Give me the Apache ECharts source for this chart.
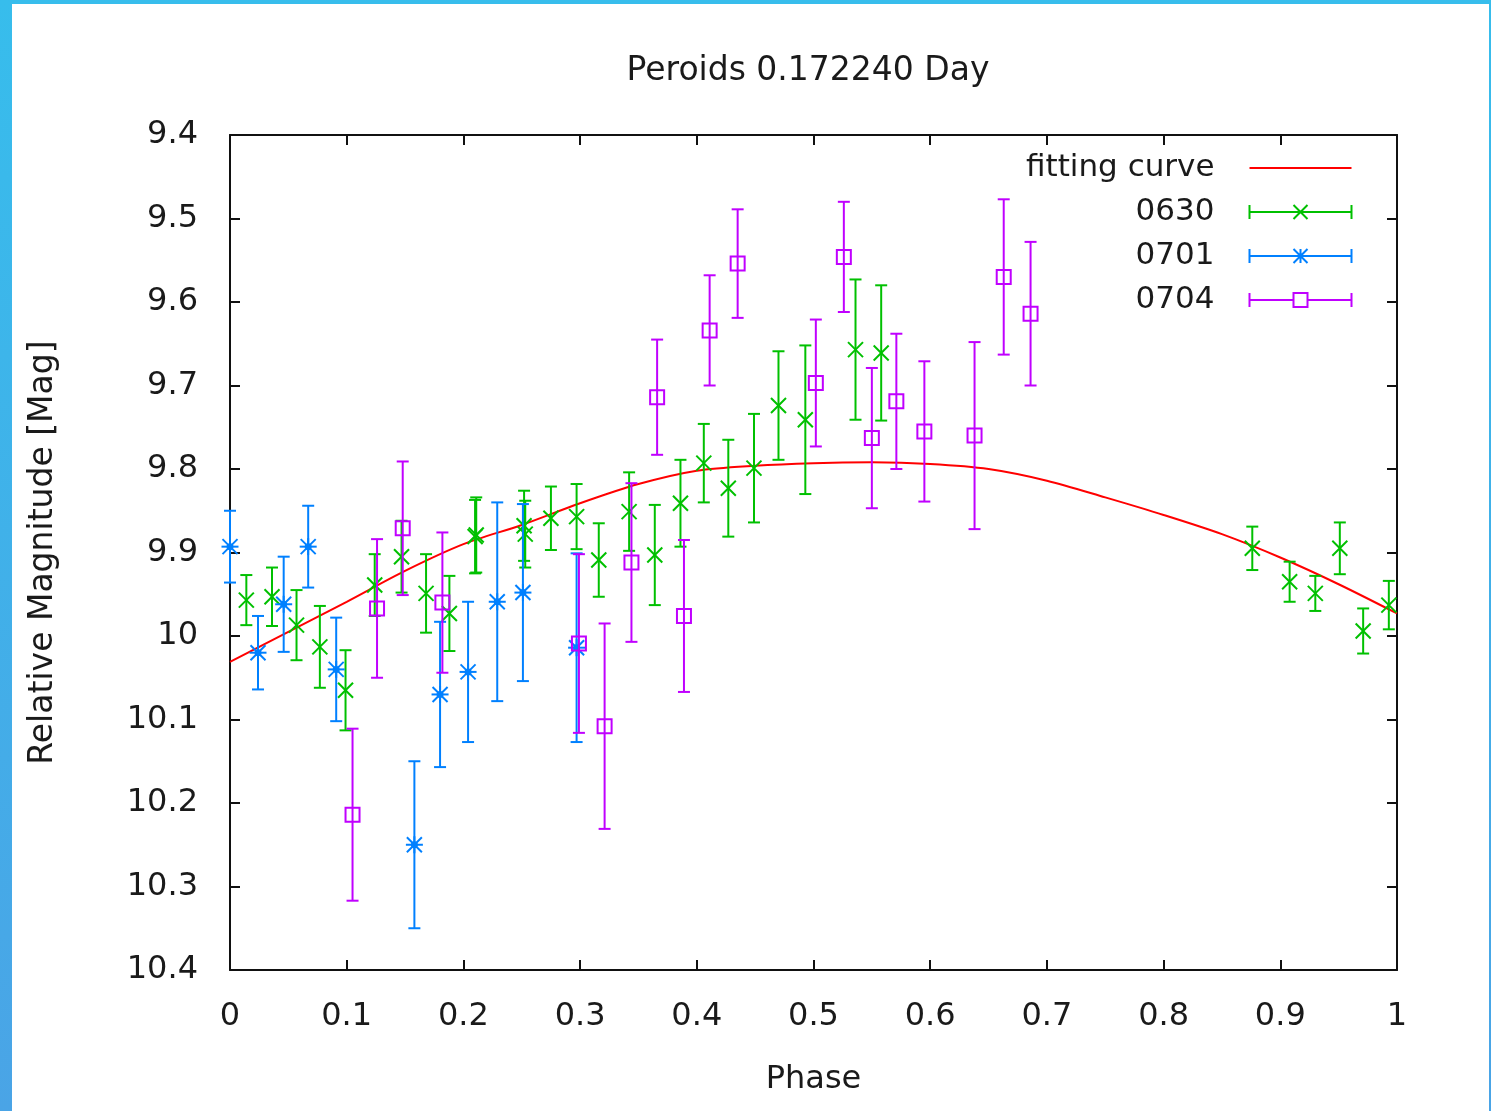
<!DOCTYPE html>
<html><head><meta charset="utf-8">
<script src="https://cdn.jsdelivr.net/npm/echarts@6/dist/echarts.min.js"></script>
<style>
html,body{margin:0;padding:0;width:1491px;height:1111px;overflow:hidden;background:linear-gradient(to bottom,#37bdec,#4aa4e6);}
#chart{position:absolute;left:12px;top:4px;width:1477px;height:1107px;background:#fff;}
</style></head><body><div id="chart"></div>
<script>
// ---- tick labels ----
const xTickLabels = ['0','0.1','0.2','0.3','0.4','0.5','0.6','0.7','0.8','0.9','1'];
const yTickLabels = ['9.4','9.5','9.6','9.7','9.8','9.9','10','10.1','10.2','10.3','10.4'];

// ---- fitting curve ----
const fitPhase = [0,0.05,0.1,0.15,0.2,0.25,0.3,0.35,0.4,0.45,0.5,0.55,0.6,0.65,0.7,0.75,0.8,0.85,0.9,0.95,1.0];
const fitMag   = [10.031,9.995,9.959,9.922,9.890,9.867,9.841,9.818,9.802,9.796,9.793,9.792,9.794,9.800,9.814,9.834,9.855,9.878,9.906,9.938,9.973];

// ---- 0630 ----
const p0630Phase = [0.014,0.036,0.057,0.077,0.099,0.124,0.147,0.168,0.188,0.210,0.211,0.252,0.253,0.275,0.297,0.316,0.342,0.364,0.386,0.406,0.427,0.449,0.470,0.493,0.536,0.558,0.876,0.908,0.930,0.951,0.971,0.993];
const p0630Mag   = [9.957,9.953,9.987,10.013,10.065,9.939,9.905,9.949,9.973,9.881,9.879,9.868,9.878,9.859,9.857,9.909,9.851,9.903,9.841,9.793,9.823,9.799,9.724,9.741,9.657,9.661,9.895,9.935,9.949,9.895,9.994,9.963];
const p0630Err   = [0.030,0.035,0.042,0.049,0.048,0.037,0.043,0.047,0.045,0.044,0.045,0.042,0.040,0.038,0.039,0.044,0.047,0.060,0.052,0.047,0.058,0.065,0.065,0.089,0.084,0.081,0.026,0.024,0.021,0.031,0.027,0.029];

// ---- 0701 ----
const p0701Phase = [0.000,0.024,0.046,0.067,0.091,0.158,0.180,0.204,0.229,0.251,0.297];
const p0701Mag   = [9.893,10.020,9.962,9.893,10.040,10.250,10.070,10.043,9.959,9.948,10.014];
const p0701Err   = [0.043,0.044,0.057,0.049,0.062,0.100,0.087,0.084,0.119,0.106,0.113];

// ---- 0704 ----
const p0704Phase = [0.105,0.126,0.148,0.182,0.299,0.321,0.344,0.366,0.389,0.411,0.435,0.502,0.526,0.550,0.571,0.595,0.638,0.663,0.686];
const p0704Mag   = [10.214,9.967,9.871,9.960,10.009,10.108,9.912,9.714,9.976,9.634,9.554,9.697,9.546,9.763,9.719,9.755,9.760,9.570,9.614];
const p0704Err   = [0.103,0.083,0.080,0.084,0.107,0.123,0.095,0.069,0.091,0.066,0.065,0.076,0.066,0.084,0.081,0.084,0.112,0.093,0.086];

const FONT = 'DejaVu Sans';
const TXT = '#1a1a1a';
const C_RED = '#ff0000', C_GREEN = '#00c000', C_BLUE = '#0080ff', C_PURPLE = '#c000ff';

function zip3(a,b,c){ return a.map((v,i)=>[v,b[i],c[i]]); }

function makeRender(kind, color){
  return function(params, api){
    const x = api.value(0), y = api.value(1), e = api.value(2);
    const c = api.coord([x, y]);
    const t = api.coord([x, y - e]);
    const b = api.coord([x, y + e]);
    const cap = 6;
    const st = {stroke: color, lineWidth: 2, fill: 'none'};
    const ch = [
      {type:'line', shape:{x1:c[0], y1:t[1], x2:c[0], y2:b[1]}, style:st},
      {type:'line', shape:{x1:c[0]-cap, y1:t[1], x2:c[0]+cap, y2:t[1]}, style:st},
      {type:'line', shape:{x1:c[0]-cap, y1:b[1], x2:c[0]+cap, y2:b[1]}, style:st}
    ];
    const s = 7.5;
    if (kind === 'cross' || kind === 'star') {
      ch.push({type:'line', shape:{x1:c[0]-s, y1:c[1]-s, x2:c[0]+s, y2:c[1]+s}, style:st});
      ch.push({type:'line', shape:{x1:c[0]-s, y1:c[1]+s, x2:c[0]+s, y2:c[1]-s}, style:st});
    }
    if (kind === 'star') {
      ch.push({type:'line', shape:{x1:c[0]-s-1, y1:c[1], x2:c[0]+s+1, y2:c[1]}, style:st});
      ch.push({type:'line', shape:{x1:c[0], y1:c[1]-s-1, x2:c[0], y2:c[1]+s+1}, style:st});
      ch.push({type:'circle', shape:{cx:c[0], cy:c[1], r:3.5}, style:{fill:color}});
    }
    if (kind === 'square') {
      ch.push({type:'rect', shape:{x:c[0]-7, y:c[1]-7, width:14, height:14}, style:st});
    }
    return {type:'group', children: ch};
  };
}

const chart = echarts.init(document.getElementById('chart'), null, {renderer:'canvas'});

const axisLine = {show:true, onZero:false, lineStyle:{color:'#111', width:2}};
const axisTick = {show:true, inside:true, length:10, lineStyle:{color:'#111', width:2}};
const textBase = {fontFamily: FONT, fontSize: 32, color: TXT};

const iconLine = 'path://M0,0 M0,7 L102,7 M102,14';
const icon0630 = 'path://M0,0 L0,14 M0,7 L102,7 M102,0 L102,14 M44,0 L58,14 M58,0 L44,14';
const icon0701 = 'path://M0,0 L0,14 M0,7 L102,7 M102,0 L102,14 M44,0 L58,14 M58,0 L44,14 M51,0 L51,14';
const icon0704 = 'path://M0,0 L0,14 M0,7 L44,7 M58,7 L102,7 M102,0 L102,14 M44,0 L58,0 L58,14 L44,14 Z';

chart.setOption({
  animation: false,
  backgroundColor: '#ffffff',
  title: {
    text: 'Peroids 0.172240 Day',
    left: 796, top: 51, textAlign: 'center', padding: 0,
    textStyle: Object.assign({}, textBase, {fontWeight:'normal', fontSize:33})
  },
  legend: {
    orient: 'vertical', align: 'right', right: 130, top: 143,
    itemWidth: 102, itemHeight: 14, itemGap: 12,
    textStyle: Object.assign({}, textBase, {fontSize:31, padding:[0,30,0,0], lineHeight:32}),
    data: [
      {name:'fitting curve', icon: iconLine, itemStyle:{color:'none', borderColor:C_RED, borderWidth:2}},
      {name:'0630', icon: icon0630, itemStyle:{color:'none', borderColor:C_GREEN, borderWidth:2}},
      {name:'0701', icon: icon0701, itemStyle:{color:'none', borderColor:C_BLUE, borderWidth:2}},
      {name:'0704', icon: icon0704, itemStyle:{color:'none', borderColor:C_PURPLE, borderWidth:2}}
    ]
  },
  grid: {left: 218, top: 131, width: 1167, height: 835, containLabel: false},
  xAxis: [
    {type:'value', min:0, max:1, interval:0.1, position:'bottom',
     name:'Phase', nameLocation:'middle', nameGap:94, nameTextStyle: textBase,
     axisLine, axisTick, splitLine:{show:false},
     axisLabel: Object.assign({margin:31, formatter: v => xTickLabels[Math.round(v*10)]}, textBase)},
    {type:'value', min:0, max:1, interval:0.1, position:'top',
     axisLine, axisTick, splitLine:{show:false}, axisLabel:{show:false}}
  ],
  yAxis: [
    {type:'value', min:9.4, max:10.4, interval:0.1, inverse:true, position:'left',
     name:'Relative Magnitude [Mag]', nameLocation:'middle', nameGap:170,
     nameTextStyle: Object.assign({}, textBase, {fontSize:33}),
     axisLine, axisTick, splitLine:{show:false},
     axisLabel: Object.assign({margin:32, formatter: v => yTickLabels[Math.round((v-9.4)*10)]}, textBase)},
    {type:'value', min:9.4, max:10.4, interval:0.1, inverse:true, position:'right',
     axisLine, axisTick, splitLine:{show:false}, axisLabel:{show:false}}
  ],
  series: [
    {name:'fitting curve', type:'line', data: fitPhase.map((p,i)=>[p, fitMag[i]]),
     showSymbol:false, symbol:'none', smooth:0.3, lineStyle:{color:C_RED, width:2}, itemStyle:{color:C_RED}, z:1},
    {name:'0630', type:'custom', data: zip3(p0630Phase, p0630Mag, p0630Err),
     encode:{x:0, y:1}, renderItem: makeRender('cross', C_GREEN), itemStyle:{color:C_GREEN}, clip:false, z:2},
    {name:'0701', type:'custom', data: zip3(p0701Phase, p0701Mag, p0701Err),
     encode:{x:0, y:1}, renderItem: makeRender('star', C_BLUE), itemStyle:{color:C_BLUE}, clip:false, z:3},
    {name:'0704', type:'custom', data: zip3(p0704Phase, p0704Mag, p0704Err),
     encode:{x:0, y:1}, renderItem: makeRender('square', C_PURPLE), itemStyle:{color:C_PURPLE}, clip:false, z:4}
  ]
});
</script></body></html>
